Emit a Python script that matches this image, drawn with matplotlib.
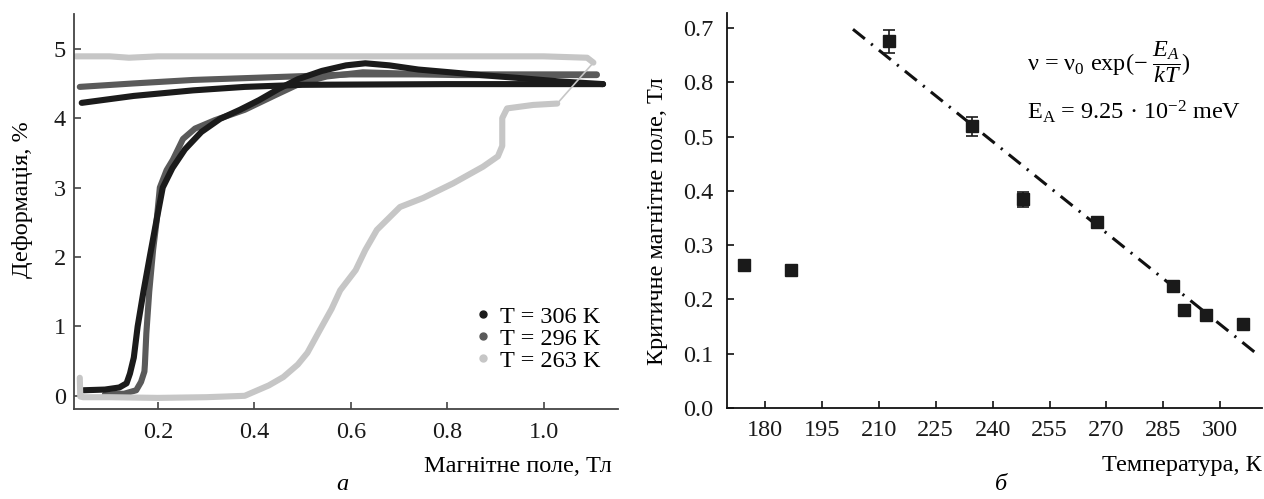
import matplotlib
matplotlib.use("Agg")
import matplotlib.pyplot as plt
from matplotlib.lines import Line2D

plt.rcParams["font.family"] = ["Liberation Serif", "DejaVu Serif"]
plt.rcParams["mathtext.fontset"] = "custom"
plt.rcParams["mathtext.rm"] = "Liberation Serif"
plt.rcParams["mathtext.it"] = "Liberation Serif:italic"
plt.rcParams["font.size"] = 17.5

# --- panel a: strain vs magnetic field, field up then down ---
t306_up_x = [0.046, 0.09, 0.12, 0.135, 0.142, 0.150, 0.158, 0.170, 0.183, 0.195, 0.210,
             0.230, 0.256, 0.29, 0.329, 0.37, 0.41, 0.45, 0.49, 0.54, 0.59, 0.63, 0.68,
             0.74, 0.806, 0.87, 0.945, 1.03, 1.123]
t306_up_y = [0.08, 0.09, 0.12, 0.18, 0.32, 0.55, 1.0, 1.5, 2.0, 2.45, 3.0,
             3.28, 3.55, 3.8, 3.99, 4.12, 4.26, 4.42, 4.56, 4.68, 4.76, 4.79, 4.76,
             4.70, 4.66, 4.62, 4.58, 4.53, 4.49]
t306_down_x = [1.123, 0.8, 0.5, 0.38, 0.273, 0.15, 0.042]
t306_down_y = [4.49, 4.49, 4.48, 4.45, 4.40, 4.32, 4.22]

t296_up_x = [0.09, 0.13, 0.155, 0.165, 0.172, 0.173, 0.176, 0.182, 0.19, 0.197, 0.204,
             0.218, 0.231, 0.252, 0.277, 0.318, 0.38, 0.443, 0.495, 0.55, 0.625, 0.72,
             0.82, 0.95, 1.11]
t296_up_y = [0.02, 0.03, 0.08, 0.2, 0.35, 0.45, 0.9, 1.5, 2.1, 2.5, 3.0,
             3.25, 3.4, 3.7, 3.85, 3.97, 4.12, 4.33, 4.5, 4.6, 4.66, 4.64,
             4.62, 4.62, 4.62]
t296_down_x = [1.11, 0.8, 0.6, 0.48, 0.273, 0.15, 0.038]
t296_down_y = [4.63, 4.63, 4.63, 4.60, 4.55, 4.50, 4.45]

t263_up_x = [0.038, 0.039, 0.045, 0.1, 0.2, 0.3, 0.38, 0.40, 0.43, 0.46, 0.49, 0.51,
             0.536, 0.56, 0.578, 0.61, 0.63, 0.654, 0.702, 0.75, 0.812, 0.874, 0.905,
             0.914, 0.914, 0.924, 0.978, 1.028]
t263_up_y = [0.26, -0.01, -0.02, -0.02, -0.03, -0.02, 0.0, 0.06, 0.15, 0.27, 0.45, 0.62,
             0.95, 1.25, 1.52, 1.81, 2.1, 2.39, 2.72, 2.85, 3.06, 3.3, 3.45,
             3.6, 4.0, 4.14, 4.19, 4.21]
t263_jump_x = [1.028, 1.103]
t263_jump_y = [4.21, 4.80]
t263_down_x = [1.103, 1.09, 1.0, 0.5, 0.2, 0.14, 0.1, 0.03]
t263_down_y = [4.80, 4.87, 4.89, 4.89, 4.89, 4.87, 4.89, 4.89]

labels_a = ["T = 306 K", "T = 296 K", "T = 263 K"]
colors_a = ["#1b1b1b", "#5a5a5a", "#c6c6c6"]

# --- panel b: critical field vs temperature ---
temp_k = [174.5, 186.8, 212.6, 234.7, 247.9, 267.6, 287.6, 290.5, 296.3, 306.1]
crit_field = [0.263, 0.254, 0.676, 0.519, 0.385, 0.343, 0.225, 0.180, 0.171, 0.155]
crit_err = [0.0, 0.0, 0.021, 0.017, 0.014, 0.008, 0.0, 0.0, 0.0, 0.0]
fit_t = [203.2, 310.3]
fit_field = [0.698, 0.096]
b_yticks = [0.0, 0.1, 0.2, 0.3, 0.4, 0.5, 0.6, 0.7]
b_yticklabels = ["0.0", "0.1", "0.2", "0.3", "0.4", "0.5", "0.8", "0.7"]
b_xticks = [180, 195, 210, 225, 240, 255, 270, 285, 300]

W, H = 1264, 499
fig = plt.figure(figsize=(W / 100, H / 100), dpi=100)


def px_axes(x0, y0, x1, y1):
    return fig.add_axes([x0 / W, 1 - y1 / H, (x1 - x0) / W, (y1 - y0) / H])


def style(ax, spine_color):
    for s in ("top", "right"):
        ax.spines[s].set_visible(False)
    for s in ("left", "bottom"):
        ax.spines[s].set_color(spine_color)
        ax.spines[s].set_linewidth(1.3)
    ax.tick_params(direction="in", length=5, width=1.2, color=spine_color,
                   labelcolor="#1a1a1a")


ax1 = px_axes(74, 14, 618, 409)
style(ax1, "#444444")
lw = 4.4
ax1.plot(t296_up_x, t296_up_y, color=colors_a[1], lw=lw, solid_capstyle="round")
ax1.plot(t296_down_x, t296_down_y, color=colors_a[1], lw=lw, solid_capstyle="round")
ax1.plot(t306_up_x, t306_up_y, color=colors_a[0], lw=lw, solid_capstyle="round")
ax1.plot(t306_down_x, t306_down_y, color=colors_a[0], lw=lw, solid_capstyle="round")
ax1.plot(t263_up_x, t263_up_y, color=colors_a[2], lw=lw, solid_capstyle="round")
ax1.plot(t263_jump_x, t263_jump_y, color=colors_a[2], lw=1.2)
ax1.plot(t263_down_x, t263_down_y, color=colors_a[2], lw=lw, solid_capstyle="round")
ax1.set_xlim(0.026, 1.154)
ax1.set_ylim(-0.19, 5.5)
ax1.set_xticks([0.2, 0.4, 0.6, 0.8, 1.0])
ax1.set_xticklabels(["0.2", "0.4", "0.6", "0.8", "1.0"])
ax1.set_yticks([0, 1, 2, 3, 4, 5])
ax1.tick_params(axis="x", pad=9)
ax1.tick_params(axis="y", pad=6)

handles = [Line2D([], [], ls="none", marker="o", ms=5, color=c) for c in colors_a]
ax1.legend(handles, labels_a, loc="lower right", bbox_to_anchor=(0.985, 0.07),
           frameon=False, handlelength=0.6, handletextpad=0.4, labelspacing=0.0,
           borderaxespad=0, fontsize=17.5)

ax2 = px_axes(727, 13, 1262, 408)
style(ax2, "#111111")
ax2.plot(fit_t, fit_field, color="#111111", lw=2.2, dashes=(5, 2.6, 0.7, 2.6))
for t, f, e in zip(temp_k, crit_field, crit_err):
    ax2.errorbar(t, f, yerr=e if e > 0 else None, fmt="s", ms=8.5, color="#1a1a1a",
                 ecolor="#1a1a1a", elinewidth=1.2, capsize=4.5, capthick=1.2, zorder=3)
ax2.set_xlim(170, 311)
ax2.set_ylim(0, 0.728)
ax2.set_xticks(b_xticks)
ax2.set_yticks(b_yticks)
ax2.set_yticklabels(b_yticklabels)
ax2.tick_params(axis="x", pad=9)
ax2.tick_params(axis="y", pad=10)

fig.text(1027 / W, 1 - 62 / H, r"ν = ν$_0$ exp(− $\dfrac{E_A}{kT}$)", ha="left",
         va="center", fontsize=17.5)
fig.text(1027 / W, 1 - 112 / H, r"E$_\mathrm{A}$ = 9.25 · 10$^{-2}$ meV", ha="left",
         va="center", fontsize=17.5)

fig.text(23 / W, 1 - 200 / H, "Деформація, %", rotation=90, ha="center", va="center")
fig.text(612 / W, 1 - 466 / H, "Магнітне поле, Тл", ha="right", va="center")
fig.text(657 / W, 1 - 221 / H, "Критичне магнітне поле, Тл", rotation=90,
         ha="center", va="center")
fig.text(1262 / W, 1 - 466 / H, "Температура, К", ha="right", va="center")
fig.text(342 / W, 1 - 485 / H, "а", ha="center", va="center", style="italic")
fig.text(1001 / W, 1 - 485 / H, "б", ha="center", va="center", style="italic")

fig.savefig("out.png", dpi=100)
